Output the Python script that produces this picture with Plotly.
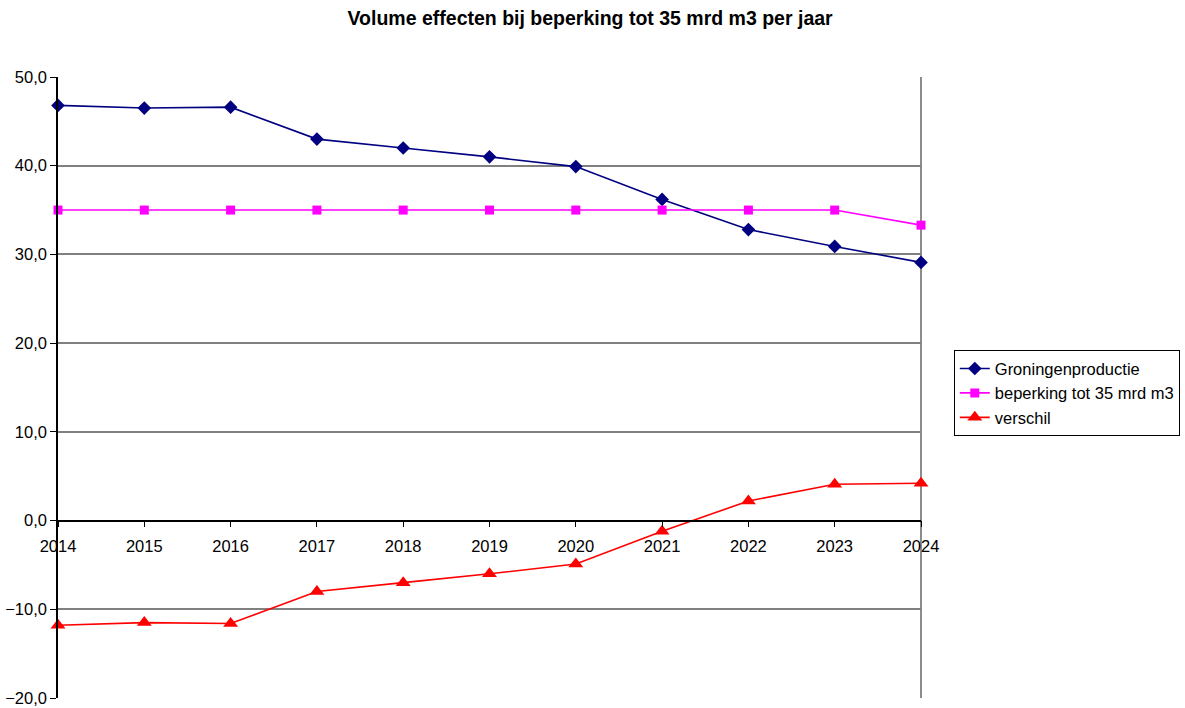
import plotly.graph_objects as go

years = [2014, 2015, 2016, 2017, 2018, 2019, 2020, 2021, 2022, 2023, 2024]
groningen = [46.8, 46.5, 46.6, 43.0, 42.0, 41.0, 39.9, 36.2, 32.8, 30.9, 29.1]
beperking = [35.0, 35.0, 35.0, 35.0, 35.0, 35.0, 35.0, 35.0, 35.0, 35.0, 33.3]
verschil = [b - g for b, g in zip(beperking, groningen)]

y_ticks = [-20, -10, 0, 10, 20, 30, 40, 50]
y_min, y_max = -20, 50

font_family = "Liberation Sans, Arial, sans-serif"
tick_size = 16.5

fig = go.Figure()
fig.add_trace(go.Scatter(
    x=years, y=groningen, name="Groningenproductie", mode="lines+markers",
    line=dict(color="#000080", width=1.6),
    marker=dict(symbol="diamond", size=10.5, color="#000080"),
    cliponaxis=False,
))
fig.add_trace(go.Scatter(
    x=years, y=beperking, name="beperking tot 35 mrd m3", mode="lines+markers",
    line=dict(color="#FF00FF", width=1.6),
    marker=dict(symbol="square", size=9, color="#FF00FF"),
    cliponaxis=False,
))
fig.add_trace(go.Scatter(
    x=years, y=verschil, name="verschil", mode="lines+markers",
    line=dict(color="#FF0000", width=1.6),
    marker=dict(symbol="triangle-up", size=13, color="#FF0000"),
    cliponaxis=False,
))

# right border of the plot area
fig.add_shape(type="line", xref="x domain", yref="y domain",
              x0=1, x1=1, y0=0, y1=1,
              line=dict(color="#808080", width=1.8), layer="below")

fig.update_layout(
    width=1185, height=708,
    margin=dict(l=58, r=264, t=77, b=10, autoexpand=False),
    paper_bgcolor="white", plot_bgcolor="white",
    separators=",.",
    font=dict(family=font_family, size=tick_size, color="black"),
    title=dict(text="<b>Volume effecten bij beperking tot 35 mrd m3 per jaar</b>",
               x=0.498, xref="container", xanchor="center",
               y=0.974, yref="container", yanchor="middle",
               font=dict(size=19.5, family=font_family)),
    showlegend=True,
    legend=dict(x=1.038, y=0.56, xanchor="left", yanchor="top",
                bordercolor="black", borderwidth=1, bgcolor="white",
                font=dict(size=tick_size), tracegroupgap=0, itemwidth=30),
    xaxis=dict(
        range=[2014, 2024], tickmode="array", tickvals=years,
        ticktext=[str(y) for y in years],
        showgrid=False, zeroline=False,
        showline=True, linecolor="black", linewidth=1.5,
        ticks="outside", ticklen=6, tickcolor="black",
        anchor="free", position=(0 - y_min) / (y_max - y_min),
        ticklabelstandoff=5, automargin=False,
        tickfont=dict(size=tick_size),
    ),
    yaxis=dict(
        range=[y_min, y_max], tickmode="array", tickvals=y_ticks,
        tickformat=".1f",
        showgrid=True, gridcolor="#808080", gridwidth=1.6,
        zeroline=False,
        showline=True, linecolor="black", linewidth=1.5,
        ticks="outside", ticklen=6, tickcolor="black",
        automargin=False,
        tickfont=dict(size=tick_size),
    ),
)

fig.write_html("out.html")
